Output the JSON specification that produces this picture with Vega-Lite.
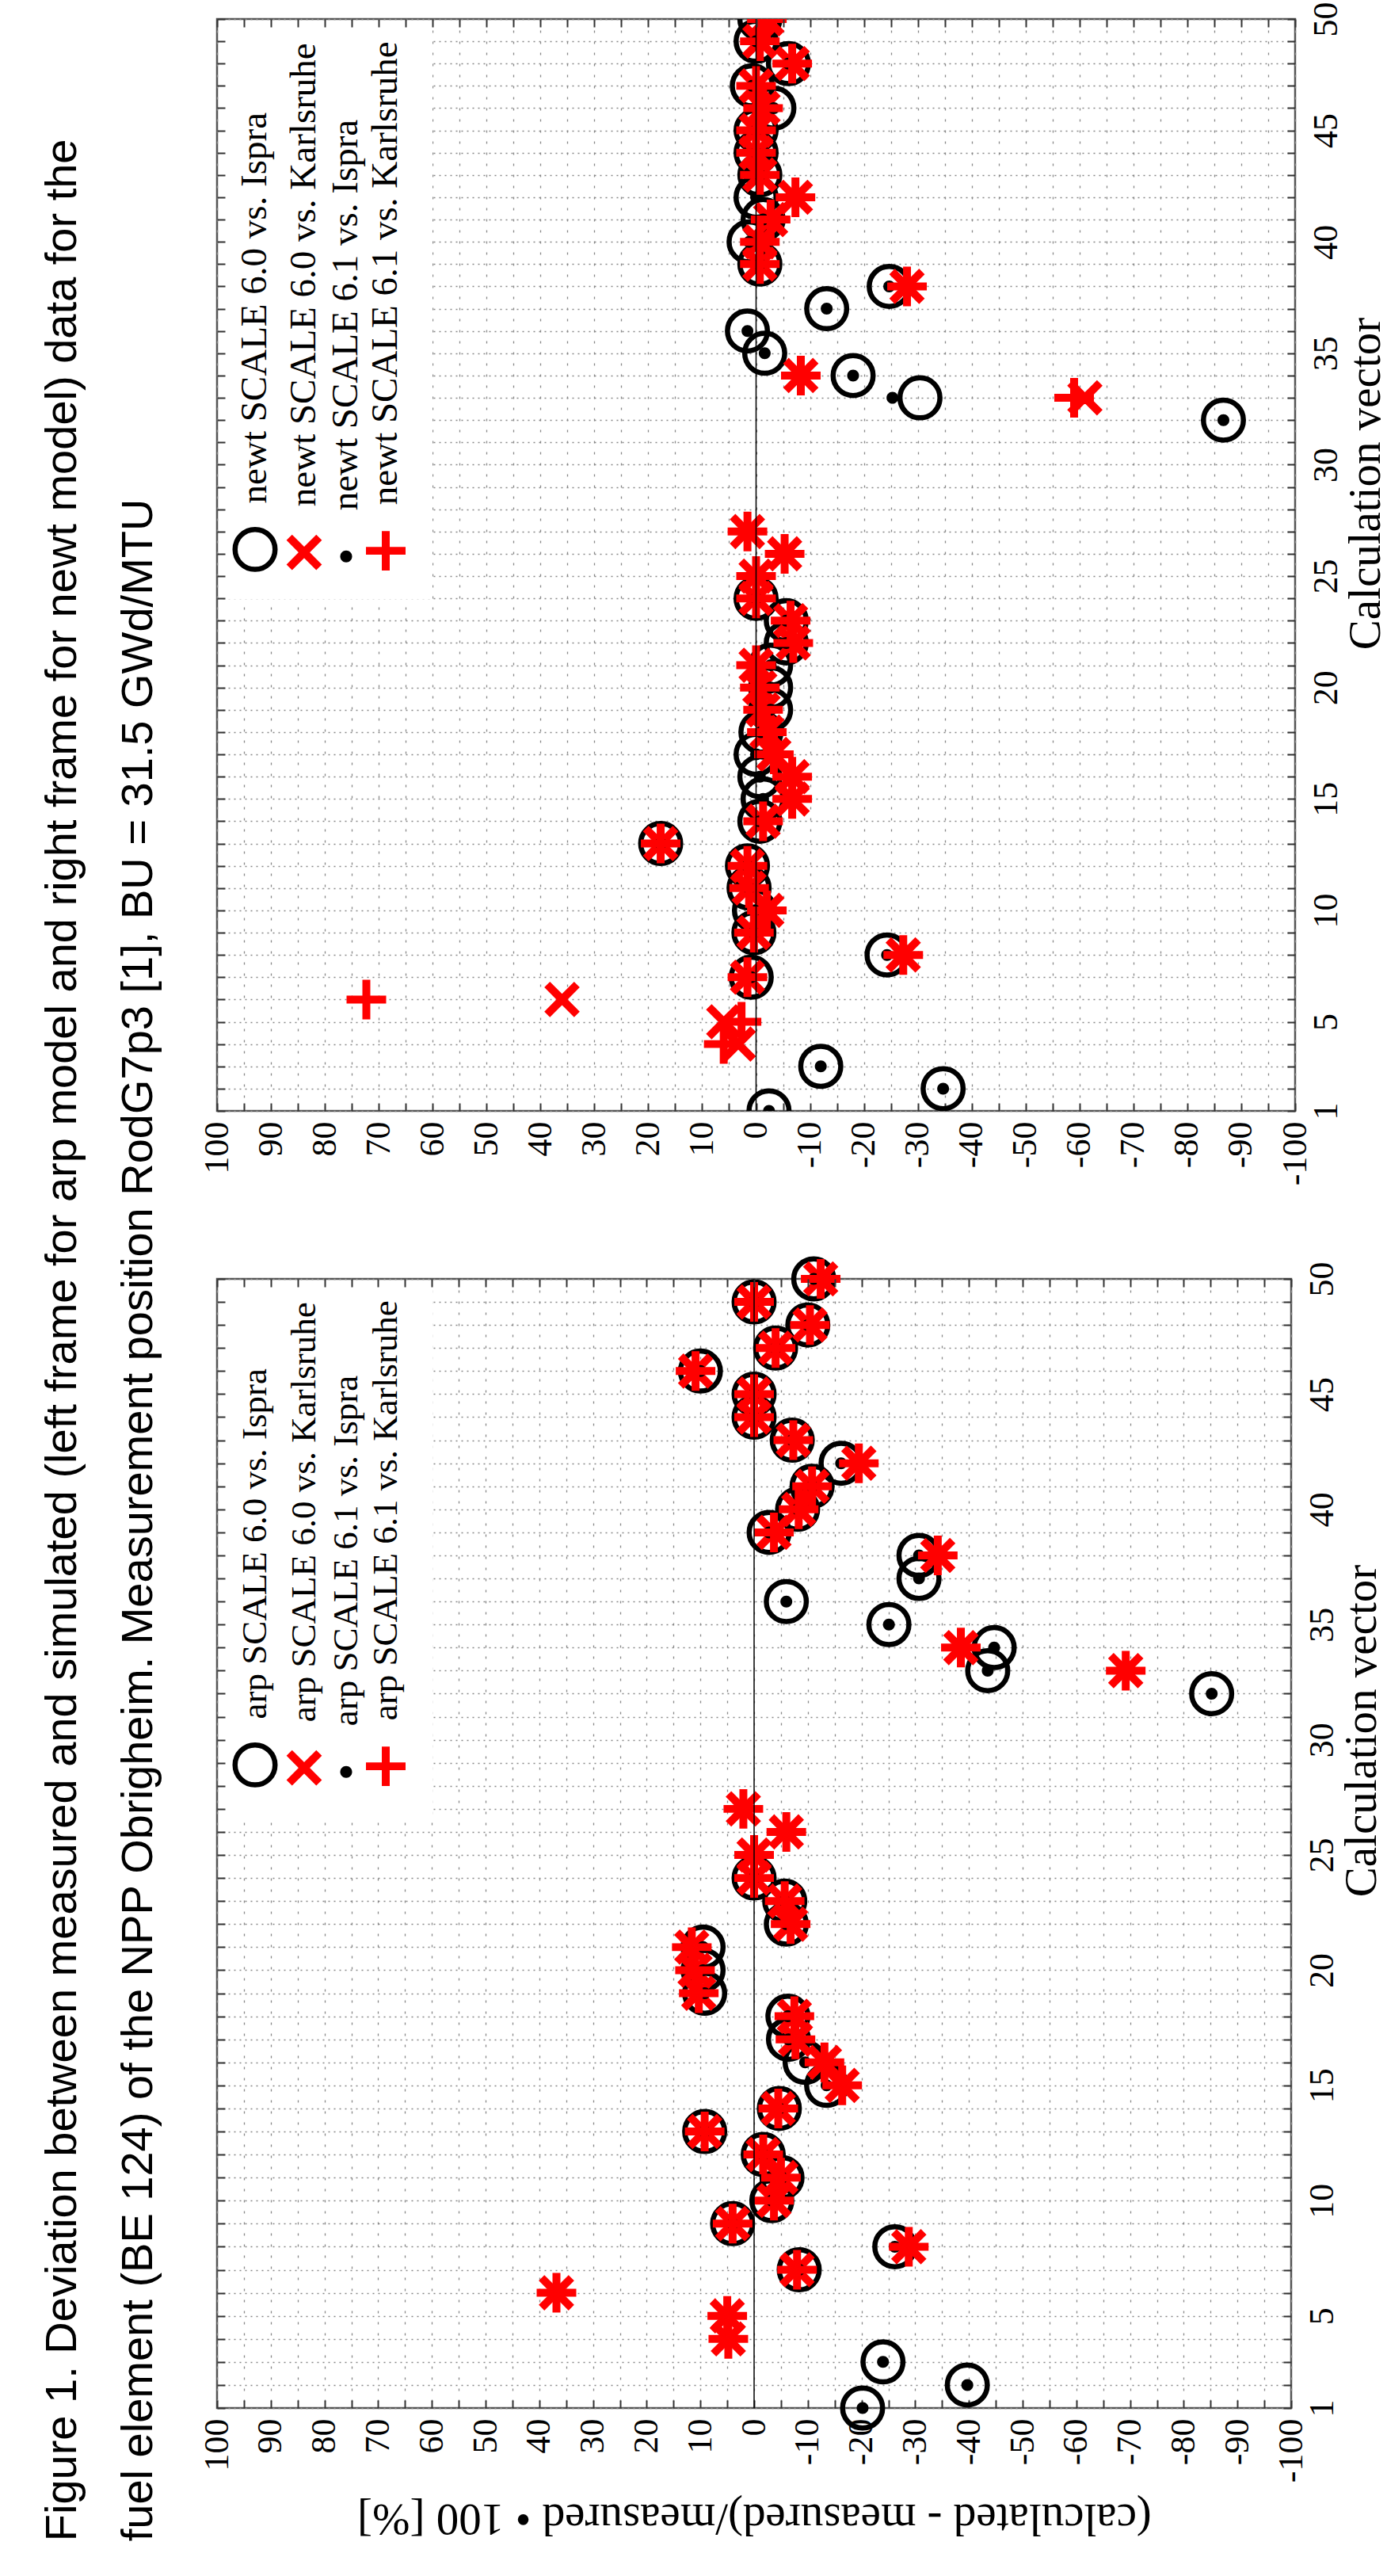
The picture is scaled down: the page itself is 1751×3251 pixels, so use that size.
{
"$schema":"https://vega.github.io/schema/vega-lite/v6.json",
"background":"white",
"padding":{"left":50,"top":0,"right":0,"bottom":20},
"title":{"text":["Figure 1. Deviation between measured and simulated (left frame for arp model and right frame for newt model) data for the","fuel element (BE 124) of the NPP Obrigheim. Measurement position RodG7p3 [1], BU = 31.5 GWd/MTU"],"orient":"left","anchor":"start","font":"Liberation Sans","fontSize":56,"fontWeight":"normal","color":"black","lineHeight":96,"offset":47},
"datasets":{
"top":[
{"v":1,"s":"i60","d":-2.4},{"v":2,"s":"i60","d":-34.7},{"v":3,"s":"i60","d":-12},{"v":7,"s":"i60","d":0.9},{"v":8,"s":"i60","d":-24.3},{"v":9,"s":"i60","d":0.4},{"v":10,"s":"i60","d":0.3},{"v":11,"s":"i60","d":1.3},{"v":12,"s":"i60","d":1.6},{"v":13,"s":"i60","d":17.7},{"v":14,"s":"i60","d":-0.7},{"v":15,"s":"i60","d":-1.3},{"v":16,"s":"i60","d":-0.7},{"v":17,"s":"i60","d":0},{"v":18,"s":"i60","d":-0.9},{"v":19,"s":"i60","d":-2.7},{"v":20,"s":"i60","d":-2.7},{"v":21,"s":"i60","d":-2.7},{"v":22,"s":"i60","d":-5.6},{"v":23,"s":"i60","d":-5.6},{"v":24,"s":"i60","d":0},{"v":32,"s":"i60","d":-86.7},{"v":33,"s":"i60","d":-30.4},{"v":34,"s":"i60","d":-18},{"v":35,"s":"i60","d":-1.6},{"v":36,"s":"i60","d":1.6},{"v":37,"s":"i60","d":-13.1},{"v":38,"s":"i60","d":-24.7},{"v":39,"s":"i60","d":-0.7},{"v":40,"s":"i60","d":1.3},{"v":41,"s":"i60","d":-1.3},{"v":42,"s":"i60","d":0},{"v":43,"s":"i60","d":-0.7},{"v":44,"s":"i60","d":0},{"v":45,"s":"i60","d":0},{"v":46,"s":"i60","d":-3.3},{"v":47,"s":"i60","d":0.7},{"v":48,"s":"i60","d":-6},{"v":49,"s":"i60","d":0},{"v":50,"s":"i60","d":-0.7},
{"v":4,"s":"k60","d":3.3},{"v":5,"s":"k60","d":6},{"v":6,"s":"k60","d":36},{"v":7,"s":"k60","d":1.6},{"v":8,"s":"k60","d":-27.3},{"v":9,"s":"k60","d":0.4},{"v":10,"s":"k60","d":-2},{"v":11,"s":"k60","d":1.3},{"v":12,"s":"k60","d":1.6},{"v":13,"s":"k60","d":17.7},{"v":14,"s":"k60","d":-1.3},{"v":15,"s":"k60","d":-6.7},{"v":16,"s":"k60","d":-6.7},{"v":17,"s":"k60","d":-3.3},{"v":18,"s":"k60","d":-2},{"v":19,"s":"k60","d":-1.3},{"v":20,"s":"k60","d":-0.7},{"v":21,"s":"k60","d":0},{"v":22,"s":"k60","d":-6.9},{"v":23,"s":"k60","d":-6.4},{"v":24,"s":"k60","d":0},{"v":25,"s":"k60","d":0},{"v":26,"s":"k60","d":-5.3},{"v":27,"s":"k60","d":1.6},{"v":33,"s":"k60","d":-61},{"v":34,"s":"k60","d":-8.3},{"v":38,"s":"k60","d":-28},{"v":39,"s":"k60","d":-0.7},{"v":40,"s":"k60","d":-0.7},{"v":41,"s":"k60","d":-2.7},{"v":42,"s":"k60","d":-7.3},{"v":43,"s":"k60","d":-0.7},{"v":44,"s":"k60","d":0},{"v":45,"s":"k60","d":0},{"v":46,"s":"k60","d":-1.3},{"v":47,"s":"k60","d":0},{"v":48,"s":"k60","d":-6.7},{"v":49,"s":"k60","d":-0.7},{"v":50,"s":"k60","d":-2},
{"v":1,"s":"i61","d":-2.4},{"v":2,"s":"i61","d":-34.7},{"v":3,"s":"i61","d":-12},{"v":7,"s":"i61","d":0.9},{"v":8,"s":"i61","d":-24.3},{"v":9,"s":"i61","d":0.4},{"v":10,"s":"i61","d":0.3},{"v":11,"s":"i61","d":1.3},{"v":12,"s":"i61","d":1.6},{"v":13,"s":"i61","d":17.7},{"v":14,"s":"i61","d":-0.7},{"v":15,"s":"i61","d":-1.3},{"v":16,"s":"i61","d":-0.7},{"v":17,"s":"i61","d":0},{"v":18,"s":"i61","d":-0.9},{"v":19,"s":"i61","d":-2.7},{"v":20,"s":"i61","d":-2.7},{"v":21,"s":"i61","d":-2.7},{"v":22,"s":"i61","d":-5.6},{"v":23,"s":"i61","d":-5.6},{"v":24,"s":"i61","d":0},{"v":32,"s":"i61","d":-86.7},{"v":33,"s":"i61","d":-25.3},{"v":34,"s":"i61","d":-18},{"v":35,"s":"i61","d":-1.6},{"v":36,"s":"i61","d":1.6},{"v":37,"s":"i61","d":-13.1},{"v":38,"s":"i61","d":-24.7},{"v":39,"s":"i61","d":-0.7},{"v":40,"s":"i61","d":1.3},{"v":41,"s":"i61","d":-1.3},{"v":42,"s":"i61","d":0},{"v":43,"s":"i61","d":-0.7},{"v":44,"s":"i61","d":0},{"v":45,"s":"i61","d":0},{"v":46,"s":"i61","d":-3.3},{"v":47,"s":"i61","d":0.7},{"v":48,"s":"i61","d":-6},{"v":49,"s":"i61","d":0},{"v":50,"s":"i61","d":-0.7},
{"v":4,"s":"k61","d":6},{"v":5,"s":"k61","d":2.7},{"v":6,"s":"k61","d":72.3},{"v":7,"s":"k61","d":1.6},{"v":8,"s":"k61","d":-27.3},{"v":9,"s":"k61","d":0.4},{"v":10,"s":"k61","d":-2},{"v":11,"s":"k61","d":1.3},{"v":12,"s":"k61","d":1.6},{"v":13,"s":"k61","d":17.7},{"v":14,"s":"k61","d":-1.3},{"v":15,"s":"k61","d":-6.7},{"v":16,"s":"k61","d":-6.7},{"v":17,"s":"k61","d":-3.3},{"v":18,"s":"k61","d":-2},{"v":19,"s":"k61","d":-1.3},{"v":20,"s":"k61","d":-0.7},{"v":21,"s":"k61","d":0},{"v":22,"s":"k61","d":-6.9},{"v":23,"s":"k61","d":-6.4},{"v":24,"s":"k61","d":0},{"v":25,"s":"k61","d":0},{"v":26,"s":"k61","d":-5.3},{"v":27,"s":"k61","d":1.6},{"v":33,"s":"k61","d":-59},{"v":34,"s":"k61","d":-8.3},{"v":38,"s":"k61","d":-28},{"v":39,"s":"k61","d":-0.7},{"v":40,"s":"k61","d":-0.7},{"v":41,"s":"k61","d":-2.7},{"v":42,"s":"k61","d":-7.3},{"v":43,"s":"k61","d":-0.7},{"v":44,"s":"k61","d":0},{"v":45,"s":"k61","d":0},{"v":46,"s":"k61","d":-1.3},{"v":47,"s":"k61","d":0},{"v":48,"s":"k61","d":-6.7},{"v":49,"s":"k61","d":-0.7},{"v":50,"s":"k61","d":-2}
],
"bot":[
{"v":1,"s":"i60","d":-20.2},{"v":2,"s":"i60","d":-39.7},{"v":3,"s":"i60","d":-24},{"v":7,"s":"i60","d":-8.4},{"v":8,"s":"i60","d":-26.2},{"v":9,"s":"i60","d":4},{"v":10,"s":"i60","d":-3.3},{"v":11,"s":"i60","d":-5.2},{"v":12,"s":"i60","d":-1.7},{"v":13,"s":"i60","d":9.2},{"v":14,"s":"i60","d":-4.7},{"v":15,"s":"i60","d":-13.5},{"v":16,"s":"i60","d":-9.5},{"v":17,"s":"i60","d":-6.4},{"v":18,"s":"i60","d":-6.3},{"v":19,"s":"i60","d":9.2},{"v":20,"s":"i60","d":9.5},{"v":21,"s":"i60","d":9.5},{"v":22,"s":"i60","d":-6},{"v":23,"s":"i60","d":-5.7},{"v":24,"s":"i60","d":0},{"v":32,"s":"i60","d":-85.2},{"v":33,"s":"i60","d":-43.5},{"v":34,"s":"i60","d":-44.7},{"v":35,"s":"i60","d":-25.1},{"v":36,"s":"i60","d":-6},{"v":37,"s":"i60","d":-30.7},{"v":38,"s":"i60","d":-30.7},{"v":39,"s":"i60","d":-2.8},{"v":40,"s":"i60","d":-8.1},{"v":41,"s":"i60","d":-10.8},{"v":42,"s":"i60","d":-16.2},{"v":43,"s":"i60","d":-7.1},{"v":44,"s":"i60","d":0},{"v":45,"s":"i60","d":0},{"v":46,"s":"i60","d":10},{"v":47,"s":"i60","d":-4},{"v":48,"s":"i60","d":-10},{"v":49,"s":"i60","d":0},{"v":50,"s":"i60","d":-11.1},
{"v":4,"s":"k60","d":4.8},{"v":5,"s":"k60","d":5},{"v":6,"s":"k60","d":36.8},{"v":7,"s":"k60","d":-8},{"v":8,"s":"k60","d":-28.8},{"v":9,"s":"k60","d":4},{"v":10,"s":"k60","d":-3.7},{"v":11,"s":"k60","d":-5},{"v":12,"s":"k60","d":-1.7},{"v":13,"s":"k60","d":9.2},{"v":14,"s":"k60","d":-4.5},{"v":15,"s":"k60","d":-16.4},{"v":16,"s":"k60","d":-13.1},{"v":17,"s":"k60","d":-7.7},{"v":18,"s":"k60","d":-7.5},{"v":19,"s":"k60","d":10.3},{"v":20,"s":"k60","d":11},{"v":21,"s":"k60","d":11.6},{"v":22,"s":"k60","d":-6.8},{"v":23,"s":"k60","d":-5.7},{"v":24,"s":"k60","d":0},{"v":25,"s":"k60","d":0},{"v":26,"s":"k60","d":-6},{"v":27,"s":"k60","d":2},{"v":33,"s":"k60","d":-69.2},{"v":34,"s":"k60","d":-38.5},{"v":38,"s":"k60","d":-34.2},{"v":39,"s":"k60","d":-3.7},{"v":40,"s":"k60","d":-8.3},{"v":41,"s":"k60","d":-10.8},{"v":42,"s":"k60","d":-19.5},{"v":43,"s":"k60","d":-7.3},{"v":44,"s":"k60","d":0},{"v":45,"s":"k60","d":0},{"v":46,"s":"k60","d":10.9},{"v":47,"s":"k60","d":-4},{"v":48,"s":"k60","d":-10.4},{"v":49,"s":"k60","d":0},{"v":50,"s":"k60","d":-12.4},
{"v":1,"s":"i61","d":-20.2},{"v":2,"s":"i61","d":-39.7},{"v":3,"s":"i61","d":-24},{"v":7,"s":"i61","d":-8.4},{"v":8,"s":"i61","d":-26.2},{"v":9,"s":"i61","d":4},{"v":10,"s":"i61","d":-3.3},{"v":11,"s":"i61","d":-5.2},{"v":12,"s":"i61","d":-1.7},{"v":13,"s":"i61","d":9.2},{"v":14,"s":"i61","d":-4.7},{"v":15,"s":"i61","d":-13.5},{"v":16,"s":"i61","d":-9.5},{"v":17,"s":"i61","d":-6.4},{"v":18,"s":"i61","d":-6.3},{"v":19,"s":"i61","d":9.2},{"v":20,"s":"i61","d":9.5},{"v":21,"s":"i61","d":9.5},{"v":22,"s":"i61","d":-6},{"v":23,"s":"i61","d":-5.7},{"v":24,"s":"i61","d":0},{"v":32,"s":"i61","d":-85.2},{"v":33,"s":"i61","d":-43.5},{"v":34,"s":"i61","d":-44.7},{"v":35,"s":"i61","d":-25.1},{"v":36,"s":"i61","d":-6},{"v":37,"s":"i61","d":-30.7},{"v":38,"s":"i61","d":-30.7},{"v":39,"s":"i61","d":-2.8},{"v":40,"s":"i61","d":-8.1},{"v":41,"s":"i61","d":-10.8},{"v":42,"s":"i61","d":-16.2},{"v":43,"s":"i61","d":-7.1},{"v":44,"s":"i61","d":0},{"v":45,"s":"i61","d":0},{"v":46,"s":"i61","d":10},{"v":47,"s":"i61","d":-4},{"v":48,"s":"i61","d":-10},{"v":49,"s":"i61","d":0},{"v":50,"s":"i61","d":-11.1},
{"v":4,"s":"k61","d":4.8},{"v":5,"s":"k61","d":5},{"v":6,"s":"k61","d":36.8},{"v":7,"s":"k61","d":-8},{"v":8,"s":"k61","d":-28.8},{"v":9,"s":"k61","d":4},{"v":10,"s":"k61","d":-3.7},{"v":11,"s":"k61","d":-5},{"v":12,"s":"k61","d":-1.7},{"v":13,"s":"k61","d":9.2},{"v":14,"s":"k61","d":-4.5},{"v":15,"s":"k61","d":-16.4},{"v":16,"s":"k61","d":-13.1},{"v":17,"s":"k61","d":-7.7},{"v":18,"s":"k61","d":-7.5},{"v":19,"s":"k61","d":10.3},{"v":20,"s":"k61","d":11},{"v":21,"s":"k61","d":11.6},{"v":22,"s":"k61","d":-6.8},{"v":23,"s":"k61","d":-5.7},{"v":24,"s":"k61","d":0},{"v":25,"s":"k61","d":0},{"v":26,"s":"k61","d":-6},{"v":27,"s":"k61","d":2},{"v":33,"s":"k61","d":-69.2},{"v":34,"s":"k61","d":-38.5},{"v":38,"s":"k61","d":-34.2},{"v":39,"s":"k61","d":-3.7},{"v":40,"s":"k61","d":-8.3},{"v":41,"s":"k61","d":-10.8},{"v":42,"s":"k61","d":-19.5},{"v":43,"s":"k61","d":-7.3},{"v":44,"s":"k61","d":0},{"v":45,"s":"k61","d":0},{"v":46,"s":"k61","d":10.9},{"v":47,"s":"k61","d":-4},{"v":48,"s":"k61","d":-10.4},{"v":49,"s":"k61","d":0},{"v":50,"s":"k61","d":-12.4}
]
},
"spacing":212,
"bounds":"flush",
"vconcat":[
{
"width":1361,"height":1378,
"layer":[
{
"data":{"name":"top"},
"mark":{"type":"point","opacity":1,"size":2550,"strokeWidth":6.5,"clip":true},
"encoding":{
"x":{"field":"d","type":"quantitative","scale":{"domain":[-100,100],"reverse":true,"nice":false,"zero":false},
"axis":{"orient":"bottom","values":[-100,-95,-90,-85,-80,-75,-70,-65,-60,-55,-50,-45,-40,-35,-30,-25,-20,-15,-10,-5,0,5,10,15,20,25,30,35,40,45,50,55,60,65,70,75,80,85,90,95,100],"labelExpr":"datum.value % 10 == 0 ? '' + datum.value : ''","labelAngle":270,"labelAlign":"right","labelBaseline":"middle","labelPadding":23,"grid":true,"gridDash":[3,11],"title":null}},
"y":{"field":"v","type":"quantitative","scale":{"domain":[1,50],"nice":false,"zero":false},
"axis":{"orient":"right","values":[1,2,3,4,5,6,7,8,9,10,11,12,13,14,15,16,17,18,19,20,21,22,23,24,25,26,27,28,29,30,31,32,33,34,35,36,37,38,39,40,41,42,43,44,45,46,47,48,49,50],"labelExpr":"datum.value == 1 || datum.value % 5 == 0 ? '' + datum.value : ''","labelAngle":270,"labelAlign":"center","labelBaseline":"top","labelPadding":27,"grid":true,"gridDash":[2,5],"title":"Calculation vector","titleAngle":270,"titleX":89,"titleY":586,"titleAlign":"center","titleBaseline":"middle"}},
"shape":{"field":"s","type":"nominal","scale":{"domain":["i60","k60","i61","k61"],"range":["circle","M-0.605,-0.703L0,-0.098L0.605,-0.703L0.703,-0.605L0.098,0L0.703,0.605L0.605,0.703L0,0.098L-0.605,0.703L-0.703,0.605L-0.098,0L-0.703,-0.605Z","M-0.297,0A0.297,0.297,0,1,0,0.297,0A0.297,0.297,0,1,0,-0.297,0Z","M-0.861,-0.069L-0.069,-0.069L-0.069,-0.861L0.069,-0.861L0.069,-0.069L0.861,-0.069L0.861,0.069L0.069,0.069L0.069,0.861L-0.069,0.861L-0.069,0.069L-0.861,0.069Z"]},
"legend":{"orient":"none","legendX":2,"legendY":2,"direction":"horizontal","title":null,"fillColor":"white","padding":24,"columnPadding":-8,"labelFont":"Liberation Serif","labelFontSize":47,"labelColor":"black","labelLimit":2000,"labelAlign":"left","labelBaseline":"middle","symbolSize":2550,"symbolStrokeWidth":6.5,"symbolOpacity":1,"labelExpr":"datum.label == 'i60' ? 'newt SCALE 6.0 vs. Ispra' : datum.label == 'k60' ? 'newt SCALE 6.0 vs. Karlsruhe' : datum.label == 'i61' ? 'newt SCALE 6.1 vs. Ispra' : 'newt SCALE 6.1 vs. Karlsruhe'","encode":{"symbols":{"update":{"x":{"value":22},"y":{"value":643}}},"labels":{"update":{"x":{"value":22},"y":{"value":643},"angle":{"value":270},"dx":{"value":58}}}}}},
"stroke":{"field":"s","type":"nominal","scale":{"domain":["i60","k60","i61","k61"],"range":["black","red","transparent","red"]},
"legend":{"orient":"none","legendX":2,"legendY":2,"direction":"horizontal","title":null,"fillColor":"white","padding":24,"columnPadding":-8,"labelFont":"Liberation Serif","labelFontSize":47,"labelColor":"black","labelLimit":2000,"labelAlign":"left","labelBaseline":"middle","symbolSize":2550,"symbolStrokeWidth":6.5,"symbolOpacity":1,"labelExpr":"datum.label == 'i60' ? 'newt SCALE 6.0 vs. Ispra' : datum.label == 'k60' ? 'newt SCALE 6.0 vs. Karlsruhe' : datum.label == 'i61' ? 'newt SCALE 6.1 vs. Ispra' : 'newt SCALE 6.1 vs. Karlsruhe'","encode":{"symbols":{"update":{"x":{"value":22},"y":{"value":643}}},"labels":{"update":{"x":{"value":22},"y":{"value":643},"angle":{"value":270},"dx":{"value":58}}}}}},
"fill":{"field":"s","type":"nominal","scale":{"domain":["i60","k60","i61","k61"],"range":["transparent","red","black","red"]},
"legend":{"orient":"none","legendX":2,"legendY":2,"direction":"horizontal","title":null,"fillColor":"white","padding":24,"columnPadding":-8,"labelFont":"Liberation Serif","labelFontSize":47,"labelColor":"black","labelLimit":2000,"labelAlign":"left","labelBaseline":"middle","symbolSize":2550,"symbolStrokeWidth":6.5,"symbolOpacity":1,"labelExpr":"datum.label == 'i60' ? 'newt SCALE 6.0 vs. Ispra' : datum.label == 'k60' ? 'newt SCALE 6.0 vs. Karlsruhe' : datum.label == 'i61' ? 'newt SCALE 6.1 vs. Ispra' : 'newt SCALE 6.1 vs. Karlsruhe'","encode":{"symbols":{"update":{"x":{"value":22},"y":{"value":643}}},"labels":{"update":{"x":{"value":22},"y":{"value":643},"angle":{"value":270},"dx":{"value":58}}}}}}
}
},
{
"data":{"values":[{}]},
"mark":{"type":"rule","color":"black","strokeWidth":1.5},
"encoding":{
"x":{"datum":0,"type":"quantitative","axis":{"orient":"top","values":[-100,-95,-90,-85,-80,-75,-70,-65,-60,-55,-50,-45,-40,-35,-30,-25,-20,-15,-10,-5,0,5,10,15,20,25,30,35,40,45,50,55,60,65,70,75,80,85,90,95,100],"labels":false,"grid":false,"title":null,"zindex":2}},
"y":{"datum":1,"type":"quantitative","axis":{"orient":"left","values":[1,2,3,4,5,6,7,8,9,10,11,12,13,14,15,16,17,18,19,20,21,22,23,24,25,26,27,28,29,30,31,32,33,34,35,36,37,38,39,40,41,42,43,44,45,46,47,48,49,50],"labels":false,"grid":false,"title":null,"zindex":2}},
"y2":{"datum":50}
}
}
],
"resolve":{"axis":{"x":"independent","y":"independent"}}
},
{
"width":1356,"height":1425,
"layer":[
{
"data":{"name":"bot"},
"mark":{"type":"point","opacity":1,"size":2550,"strokeWidth":6.5},
"encoding":{
"x":{"field":"d","type":"quantitative","scale":{"domain":[-100,100],"reverse":true,"nice":false,"zero":false},
"axis":{"orient":"bottom","values":[-100,-95,-90,-85,-80,-75,-70,-65,-60,-55,-50,-45,-40,-35,-30,-25,-20,-15,-10,-5,0,5,10,15,20,25,30,35,40,45,50,55,60,65,70,75,80,85,90,95,100],"labelExpr":"datum.value % 10 == 0 ? '' + datum.value : ''","labelAngle":270,"labelAlign":"right","labelBaseline":"middle","labelPadding":23,"grid":true,"gridDash":[3,11],"title":"(calculated - measured)/measured • 100 [%]","titleAngle":180,"titleY":138,"titleBaseline":"middle","titleAlign":"center"}},
"y":{"field":"v","type":"quantitative","scale":{"domain":[1,50],"nice":false,"zero":false},
"axis":{"orient":"right","values":[1,2,3,4,5,6,7,8,9,10,11,12,13,14,15,16,17,18,19,20,21,22,23,24,25,26,27,28,29,30,31,32,33,34,35,36,37,38,39,40,41,42,43,44,45,46,47,48,49,50],"labelExpr":"datum.value == 1 || datum.value % 5 == 0 ? '' + datum.value : ''","labelAngle":270,"labelAlign":"center","labelBaseline":"top","labelPadding":27,"grid":true,"gridDash":[2,5],"title":"Calculation vector","titleAngle":270,"titleX":89,"titleY":570,"titleAlign":"center","titleBaseline":"middle"}},
"shape":{"field":"s","type":"nominal","scale":{"domain":["i60","k60","i61","k61"],"range":["circle","M-0.605,-0.703L0,-0.098L0.605,-0.703L0.703,-0.605L0.098,0L0.703,0.605L0.605,0.703L0,0.098L-0.605,0.703L-0.703,0.605L-0.098,0L-0.703,-0.605Z","M-0.297,0A0.297,0.297,0,1,0,0.297,0A0.297,0.297,0,1,0,-0.297,0Z","M-0.861,-0.069L-0.069,-0.069L-0.069,-0.861L0.069,-0.861L0.069,-0.069L0.861,-0.069L0.861,0.069L0.069,0.069L0.069,0.861L-0.069,0.861L-0.069,0.069L-0.861,0.069Z"]},
"legend":{"orient":"none","legendX":2,"legendY":2,"direction":"horizontal","title":null,"fillColor":"white","padding":24,"columnPadding":-8,"labelFont":"Liberation Serif","labelFontSize":45,"labelColor":"black","labelLimit":2000,"labelAlign":"left","labelBaseline":"middle","symbolSize":2550,"symbolStrokeWidth":6.5,"symbolOpacity":1,"labelExpr":"datum.label == 'i60' ? 'arp SCALE 6.0 vs. Ispra' : datum.label == 'k60' ? 'arp SCALE 6.0 vs. Karlsruhe' : datum.label == 'i61' ? 'arp SCALE 6.1 vs. Ispra' : 'arp SCALE 6.1 vs. Karlsruhe'","encode":{"symbols":{"update":{"x":{"value":22},"y":{"value":587}}},"labels":{"update":{"x":{"value":22},"y":{"value":587},"angle":{"value":270},"dx":{"value":58}}}}}},
"stroke":{"field":"s","type":"nominal","scale":{"domain":["i60","k60","i61","k61"],"range":["black","red","transparent","red"]},
"legend":{"orient":"none","legendX":2,"legendY":2,"direction":"horizontal","title":null,"fillColor":"white","padding":24,"columnPadding":-8,"labelFont":"Liberation Serif","labelFontSize":45,"labelColor":"black","labelLimit":2000,"labelAlign":"left","labelBaseline":"middle","symbolSize":2550,"symbolStrokeWidth":6.5,"symbolOpacity":1,"labelExpr":"datum.label == 'i60' ? 'arp SCALE 6.0 vs. Ispra' : datum.label == 'k60' ? 'arp SCALE 6.0 vs. Karlsruhe' : datum.label == 'i61' ? 'arp SCALE 6.1 vs. Ispra' : 'arp SCALE 6.1 vs. Karlsruhe'","encode":{"symbols":{"update":{"x":{"value":22},"y":{"value":587}}},"labels":{"update":{"x":{"value":22},"y":{"value":587},"angle":{"value":270},"dx":{"value":58}}}}}},
"fill":{"field":"s","type":"nominal","scale":{"domain":["i60","k60","i61","k61"],"range":["transparent","red","black","red"]},
"legend":{"orient":"none","legendX":2,"legendY":2,"direction":"horizontal","title":null,"fillColor":"white","padding":24,"columnPadding":-8,"labelFont":"Liberation Serif","labelFontSize":45,"labelColor":"black","labelLimit":2000,"labelAlign":"left","labelBaseline":"middle","symbolSize":2550,"symbolStrokeWidth":6.5,"symbolOpacity":1,"labelExpr":"datum.label == 'i60' ? 'arp SCALE 6.0 vs. Ispra' : datum.label == 'k60' ? 'arp SCALE 6.0 vs. Karlsruhe' : datum.label == 'i61' ? 'arp SCALE 6.1 vs. Ispra' : 'arp SCALE 6.1 vs. Karlsruhe'","encode":{"symbols":{"update":{"x":{"value":22},"y":{"value":587}}},"labels":{"update":{"x":{"value":22},"y":{"value":587},"angle":{"value":270},"dx":{"value":58}}}}}}
}
},
{
"data":{"values":[{}]},
"mark":{"type":"rule","color":"black","strokeWidth":1.5},
"encoding":{
"x":{"datum":0,"type":"quantitative","axis":{"orient":"top","values":[-100,-95,-90,-85,-80,-75,-70,-65,-60,-55,-50,-45,-40,-35,-30,-25,-20,-15,-10,-5,0,5,10,15,20,25,30,35,40,45,50,55,60,65,70,75,80,85,90,95,100],"labels":false,"grid":false,"title":null,"zindex":2}},
"y":{"datum":1,"type":"quantitative","axis":{"orient":"left","values":[1,2,3,4,5,6,7,8,9,10,11,12,13,14,15,16,17,18,19,20,21,22,23,24,25,26,27,28,29,30,31,32,33,34,35,36,37,38,39,40,41,42,43,44,45,46,47,48,49,50],"labels":false,"grid":false,"title":null,"zindex":2}},
"y2":{"datum":50}
}
}
],
"resolve":{"axis":{"x":"independent","y":"independent"}}
}
],
"resolve":{"scale":{"x":"independent","y":"independent","shape":"independent","stroke":"independent","fill":"independent"},"legend":{"shape":"independent","stroke":"independent","fill":"independent"}},
"config":{
"font":"Liberation Serif",
"view":{"stroke":"#555","strokeWidth":2.5},
"axis":{"labelFont":"Liberation Serif","labelFontSize":44,"labelColor":"black","titleFont":"Liberation Serif","titleFontSize":57,"titleFontWeight":"normal","titleColor":"black","tickColor":"#333","tickWidth":2,"tickSize":-10,"domain":false,"labelOverlap":false,"labelFlush":false,"gridColor":"#888","gridWidth":1.3}
}
}
